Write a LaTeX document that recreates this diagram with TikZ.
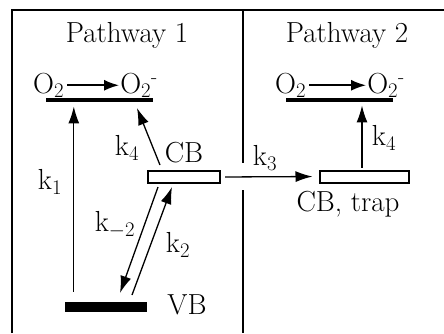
\documentclass[tikz,border=0pt]{standalone}
\usetikzlibrary{arrows.meta, positioning, calc}
\tikzset{%
  rate/.style={-{Latex[length=17pt, width=11pt]}, line width=1.3pt},
  redox/.style={-{Latex[length=15pt, width=11pt]}, line width=1.8pt, shorten <=3pt, shorten >=1pt},
  txt/.style={font=\fontsize{29}{31}\selectfont, inner sep=0pt},
  level/.style={fill=black, minimum width=107pt, minimum height=4.5pt, inner sep=0pt},
  band/.style={draw, line width=2pt, minimum width=72pt, minimum height=12pt, inner sep=0pt},
  frame/.style={line width=2.6pt},
}

\begin{document}
\begin{tikzpicture}[x=1pt, y=-1pt]
    \useasboundingbox (0,0) rectangle (444,333);

    %frame and divider
    \draw[frame] (12,333) -- (12,10) -- (444,10);
    \coordinate (T) at (243,10);
    \coordinate (M1) at (243,163);
    \coordinate (M2) at (243,190);
    \coordinate (U) at (243,333);
    \draw[frame] (T) -- (M1);
    \draw[frame] (M2) -- (U);

    \node[txt] (path1) at (127,35) {Pathway 1};
    \node[txt] (path2) at (347,35) {Pathway 2};

    % Pathway 1 levels
    \node[level] (lvlA) at (99.5,100) {};
    \node[txt, anchor=base west] (o2A) at (33,93) {O$_2$};
    \node[txt, anchor=base east] (o2mA) at (158,93) {O$_2$\textsuperscript{-}};
    \draw[redox] (o2A) -- (o2mA);

    \node[band] (cb) at (184,177) {};
    \node[fill=black, minimum width=82pt, minimum height=10pt, inner sep=0pt] (vb) at (106,307) {};
    \node[txt] (cbl) at (184,153) {CB};
    \node[txt] (vbl) at (187,305) {VB};

    % Pathway 2 levels
    \node[level] (lvlB) at (339.5,100) {};
    \node[txt, anchor=base west] (o2B) at (275,93) {O$_2$};
    \node[txt, anchor=base east] (o2mB) at (405,93) {O$_2$\textsuperscript{-}};
    \draw[redox] (o2B) -- (o2mB);

    \node[band, minimum width=89pt] (trap) at (364,176.5) {};
    \node[txt] (trapl) at (348,204) {CB, trap};

    %rate arrows
    \coordinate (k1s) at ($(vb.north west)+(9,-10)$);
    \draw[rate, shorten >=4pt] (k1s) -- (k1s |- lvlA.south);
    \coordinate (k4s) at ($(cb.north west)+(13,-5)$);
    \coordinate (k4e) at (137,108);
    \draw[rate] (k4s) -- (k4e);
    \coordinate (km2s) at (158,187);
    \coordinate (km2e) at (120,293);
    \draw[rate] (km2s) -- (km2e);
    \coordinate (k2s) at (132,295);
    \coordinate (k2e) at (172,187);
    \draw[rate] (k2s) -- (k2e);
    \draw[rate, shorten <=4pt, shorten >=6pt] (cb.east) -- (trap.west);
    \draw[rate, shorten <=2pt, shorten >=3pt] ([xshift=-2pt]trap.north) -- ([xshift=-2pt]trap.north |- lvlB.south);

    % rate labels
    \node[txt] (k1) at (50,182) {k$_1$};
    \node[txt] (k4a) at (127,148) {k$_4$};
    \node[txt] (km2) at (115,225) {k$_{-2}$};
    \node[txt] (k2) at (178,245) {k$_2$};
    \node[txt] (k3) at (265,158) {k$_3$};
    \node[txt] (k4b) at (384,138) {k$_4$};
\end{tikzpicture}
\end{document}
